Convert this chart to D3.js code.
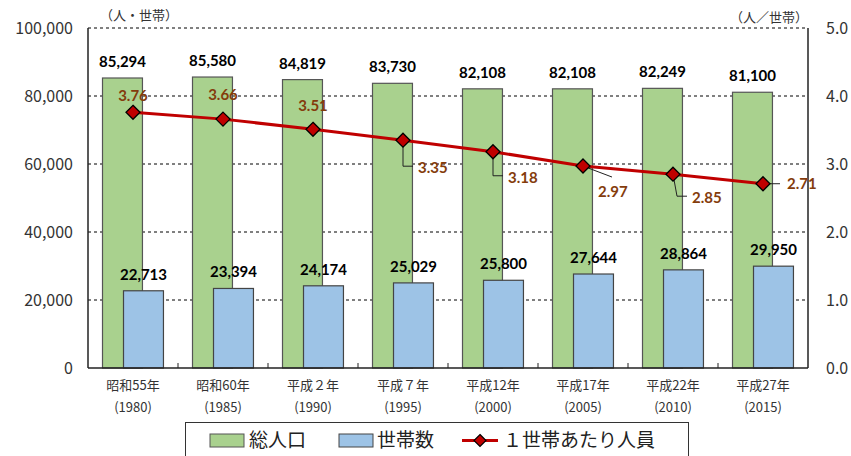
<!DOCTYPE html>
<html><head><meta charset="utf-8">
<script src="https://cdn.jsdelivr.net/npm/d3@7"></script>
<style>
body{margin:0;background:#fff;}
svg{display:block;}
</style></head>
<body>
<svg id="chart" width="851" height="456"></svg>
<script>
const categories = ["昭和55年","昭和60年","平成２年","平成７年","平成12年","平成17年","平成22年","平成27年"];
const years = ["(1980)","(1985)","(1990)","(1995)","(2000)","(2005)","(2010)","(2015)"];
const population = [85294,85580,84819,83730,82108,82108,82249,81100];
const households = [22713,23394,24174,25029,25800,27644,28864,29950];
const perHousehold = [3.76,3.66,3.51,3.35,3.18,2.97,2.85,2.71];
const leftTicks = [0,20000,40000,60000,80000,100000];
const rightTicks = [0,1,2,3,4,5];

// label placements for line values (layout only)
const lineLabelPos = [
  {dx:0, dy:-17, lead:null},
  {dx:0, dy:-24, lead:null},
  {dx:0, dy:-24, lead:null},
  {dx:15, dy:28, lead:"elbow"},
  {dx:15, dy:26, lead:"elbow"},
  {dx:15, dy:26, lead:"diag"},
  {dx:19, dy:24, lead:"elbow"},
  {dx:24, dy:0, lead:"side"}
];

const svg = d3.select("#chart");
const m = {l:88, r:808, t:28, b:368};
const x = d3.scaleBand().domain(d3.range(categories.length)).range([m.l, m.r]).padding(0);
const yL = d3.scaleLinear().domain([0,100000]).range([m.b, m.t]);
const yR = d3.scaleLinear().domain([0,5]).range([m.b, m.t]);
const cx = i => x(i) + x.bandwidth()/2;
const bw = x.bandwidth()*0.444;

const numFont = "Lato, 'Liberation Sans', sans-serif";
const jpFont = "'Noto Sans CJK JP', sans-serif";

// gridlines
svg.append("g").selectAll("line").data(leftTicks.filter(d=>d>0)).join("line")
  .attr("x1", m.l).attr("x2", m.r).attr("y1", d=>yL(d)).attr("y2", d=>yL(d))
  .attr("stroke", "#000").attr("stroke-width", 1).attr("stroke-dasharray", "3,3");

// bars
svg.append("g").selectAll("rect").data(population).join("rect")
  .attr("x", (d,i)=>cx(i)-30.5).attr("width", bw)
  .attr("y", d=>yL(d)).attr("height", d=>yL(0)-yL(d))
  .attr("fill", "#A9D18E").attr("stroke", "#555").attr("stroke-width", 1.2);
svg.append("g").selectAll("rect").data(households).join("rect")
  .attr("x", (d,i)=>cx(i)-9.5).attr("width", bw)
  .attr("y", d=>yL(d)).attr("height", d=>yL(0)-yL(d))
  .attr("fill", "#9DC3E6").attr("stroke", "#444").attr("stroke-width", 1.2);

// axes lines
svg.append("line").attr("x1",m.l).attr("x2",m.l).attr("y1",m.t).attr("y2",m.b).attr("stroke","#222").attr("stroke-width",1.5);
svg.append("line").attr("x1",m.r).attr("x2",m.r).attr("y1",m.t).attr("y2",m.b).attr("stroke","#222").attr("stroke-width",1.5);
svg.append("line").attr("x1",m.l).attr("x2",m.r).attr("y1",m.b).attr("y2",m.b).attr("stroke","#222").attr("stroke-width",1.5);
svg.append("g").selectAll("line").data(d3.range(1,categories.length)).join("line")
  .attr("x1", i=>x(i)).attr("x2", i=>x(i)).attr("y1", m.b).attr("y2", m.b-5)
  .attr("stroke","#222").attr("stroke-width",1);

// left axis labels
svg.append("g").selectAll("text").data(leftTicks).join("text")
  .attr("x", 73).attr("y", d=>yL(d)).attr("dy","0.35em").attr("text-anchor","end")
  .attr("font-family", jpFont).attr("font-size", 16).attr("fill","#333")
  .text(d=>d3.format(",")(d));
// right axis labels
svg.append("g").selectAll("text").data(rightTicks).join("text")
  .attr("x", 826).attr("y", d=>yR(d)).attr("dy","0.35em").attr("text-anchor","start")
  .attr("font-family", jpFont).attr("font-size", 16).attr("fill","#333")
  .text(d=>d3.format(".1f")(d));

// units
svg.append("text").attr("x", 100).attr("y", 20).attr("font-family", jpFont).attr("font-size", 13).attr("fill","#333").text("（人・世帯）");
svg.append("text").attr("x", 808).attr("y", 22).attr("text-anchor","end").attr("font-family", jpFont).attr("font-size", 13).attr("fill","#333").text("（人／世帯）");

// x labels
const xl = svg.append("g");
xl.selectAll("text.c").data(categories).join("text").attr("class","c")
  .attr("x",(d,i)=>cx(i)).attr("y", 390).attr("text-anchor","middle")
  .attr("font-family", jpFont).attr("font-size", 13).attr("fill","#333").text(d=>d);
xl.selectAll("text.y").data(years).join("text").attr("class","y")
  .attr("x",(d,i)=>cx(i)).attr("y", 412).attr("text-anchor","middle")
  .attr("font-family", jpFont).attr("font-size", 13).attr("fill","#333").text(d=>d);

// bar value labels
svg.append("g").selectAll("text").data(population).join("text")
  .attr("x",(d,i)=>cx(i)-10.5).attr("y", d=>yL(d)-11).attr("text-anchor","middle")
  .attr("font-family", numFont).attr("font-weight","bold").attr("font-size", 15).attr("fill","#000")
  .text(d=>d3.format(",")(d));
svg.append("g").selectAll("text").data(households).join("text")
  .attr("x",(d,i)=>cx(i)+10.5).attr("y", d=>yL(d)-11).attr("text-anchor","middle")
  .attr("font-family", numFont).attr("font-weight","bold").attr("font-size", 15).attr("fill","#000")
  .text(d=>d3.format(",")(d));

// line
const line = d3.line().x((d,i)=>cx(i)).y(d=>yR(d));
svg.append("path").datum(perHousehold).attr("d", line).attr("fill","none").attr("stroke","#C00000").attr("stroke-width",3);

// leader lines
const lead = svg.append("g").attr("stroke","#222").attr("stroke-width",1).attr("fill","none");
perHousehold.forEach((d,i)=>{
  const p = lineLabelPos[i]; const px = cx(i), py = yR(d);
  const lx = px + p.dx, ly = py + p.dy;
  if (p.lead==="elbow") {
    lead.append("path").attr("d", `M${px},${py} L${px+ (i===6?4:0)},${ly-2} L${lx-5},${ly-2}`);
  } else if (p.lead==="diag") {
    lead.append("path").attr("d", `M${px},${py} L${px+29},${py+11}`);
  } else if (p.lead==="side") {
    lead.append("path").attr("d", `M${px},${py} L${px+17},${py}`);
  }
});

// markers
svg.append("g").attr("class","markers").selectAll("path").data(perHousehold).join("path")
  .attr("transform",(d,i)=>`translate(${cx(i)},${yR(d)})`)
  .attr("d", "M0,-7L7,0L0,7L-7,0Z")
  .attr("fill","#C00000").attr("stroke","#000").attr("stroke-width",1.3);

// line labels
svg.append("g").selectAll("text").data(perHousehold).join("text")
  .attr("x",(d,i)=>cx(i)+lineLabelPos[i].dx)
  .attr("y",(d,i)=>yR(d)+lineLabelPos[i].dy).attr("dy","0.35em")
  .attr("text-anchor",(d,i)=>lineLabelPos[i].lead ? "start" : "middle")
  .attr("font-family", numFont).attr("font-weight","bold").attr("font-size", 15).attr("fill","#843C0C")
  .text(d=>d3.format(".2f")(d));

// legend
const lg = svg.append("g");
lg.append("rect").attr("x",185.5).attr("y",422.5).attr("width",503).attr("height",40).attr("fill","#fff").attr("stroke","#333").attr("stroke-width",1);
lg.append("rect").attr("x",210).attr("y",434).attr("width",34).attr("height",13).attr("fill","#A9D18E").attr("stroke","#555");
lg.append("text").attr("x",249).attr("y",447).attr("font-family",jpFont).attr("font-size",19).attr("fill","#222").text("総人口");
lg.append("rect").attr("x",339).attr("y",434).attr("width",34).attr("height",13).attr("fill","#9DC3E6").attr("stroke","#444");
lg.append("text").attr("x",377).attr("y",447).attr("font-family",jpFont).attr("font-size",19).attr("fill","#222").text("世帯数");
lg.append("line").attr("x1",462).attr("x2",498).attr("y1",440.5).attr("y2",440.5).attr("stroke","#C00000").attr("stroke-width",3);
lg.append("path").attr("transform","translate(480,440.5)").attr("d","M0,-6L6,0L0,6L-6,0Z").attr("fill","#C00000").attr("stroke","#000").attr("stroke-width",1.2);
lg.append("text").attr("x",503).attr("y",447).attr("font-family",jpFont).attr("font-size",19).attr("fill","#222").text("１世帯あたり人員");
</script>
</body></html>
